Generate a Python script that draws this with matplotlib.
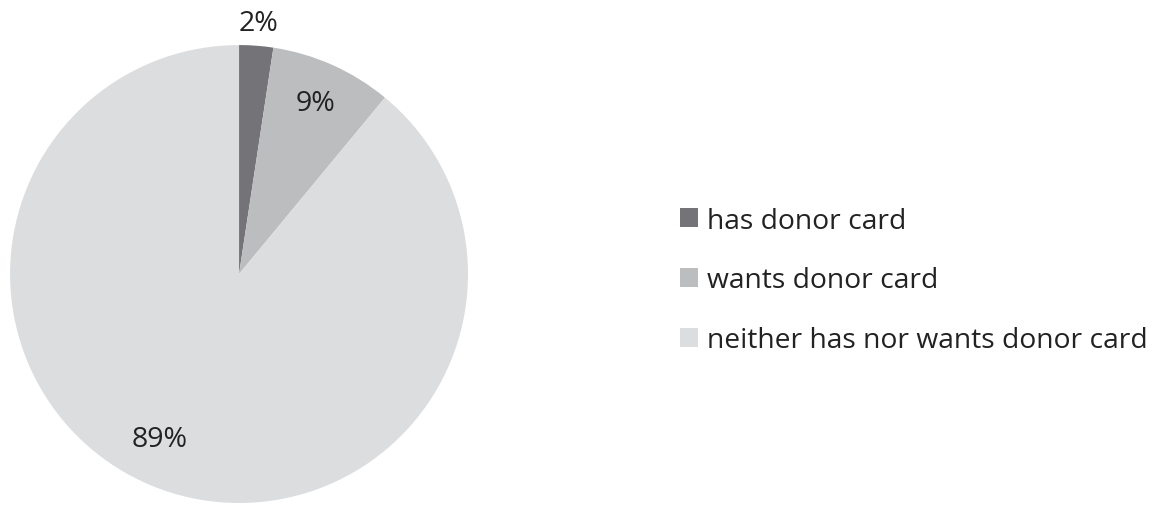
import matplotlib.pyplot as plt
import numpy as np
from matplotlib.patches import Patch

plt.rcParams['font.family'] = ['Open Sans', 'DejaVu Sans']

labels = ['has donor card', 'wants donor card', 'neither has nor wants donor card']
shares = [2.4, 8.6, 89.0]
colors = ['#747478', '#bcbdbf', '#dcdddf']

fig = plt.figure(figsize=(11.7, 5.06), dpi=100)
ax = fig.add_axes([0.00855, 0.00395, 0.3915, 0.905])

wedges, _ = ax.pie(shares, colors=colors, startangle=90, counterclock=False,
                   wedgeprops=dict(linewidth=0))
ax.set_aspect('equal')
ax.set_xlim(-1, 1)
ax.set_ylim(-1, 1)

# label radius / angle nudges to mimic the original placement
radii = [1.10, 0.82, 0.80]
nudge = [0, 0, -6]
for w, v, r, d in zip(wedges, shares, radii, nudge):
    ang = np.deg2rad((w.theta1 + w.theta2) / 2 + d)
    ax.text(r * np.cos(ang), r * np.sin(ang), f'{round(v):.0f}%', ha='center', va='center',
            fontsize=20.5, color='#222222', clip_on=False)

handles = [Patch(facecolor=c, edgecolor='none') for c in colors]
fig.legend(handles, labels, loc='upper left', bbox_to_anchor=(0.5595, 0.640),
           frameon=False, fontsize=20.3, handlelength=0.64, handleheight=0.67,
           handletextpad=0.32, labelspacing=1.13, labelcolor='#222222')

fig.savefig('out.png', dpi=100)
